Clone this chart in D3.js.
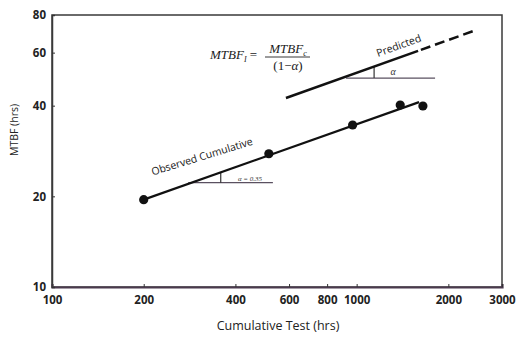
<!DOCTYPE html>
<html>
<head>
<meta charset="utf-8">
<script src="https://cdn.jsdelivr.net/npm/d3@7"></script>
<style>
  body { margin: 0; background: #fff; }
  svg { display: block; }
</style>
</head>
<body>
<svg id="chart" width="518" height="337"></svg>
<script>
// observed data points (cumulative test hours vs cumulative MTBF)
const obs_hours = [200, 515, 970, 1390, 1650];
const obs_mtbf = [19.5, 27.7, 34.5, 40.2, 39.9];

// fitted observed line, predicted (instantaneous) line
const observed_fit_hours = [200, 1603];
const observed_fit_mtbf = [19.5, 41.1];
const predicted_hours = [586, 1591];
const predicted_mtbf = [42.4, 60.8];
const predicted_ext_hours = [1625, 2466];
const predicted_ext_mtbf = [61.3, 71.3];

// alpha angle markers: [start hours, end hours, level mtbf, tick hours, tick top mtbf]
const obs_angle = [280, 531, 22.2, 358, 23.9];
const pred_angle = [923, 1809, 49.4, 1141, 53.8];

const x_ticks = [100, 200, 400, 600, 800, 1000, 2000, 3000];
const y_ticks = [10, 20, 40, 60, 80];

const svg = d3.select("#chart");
const plot_left = 52, plot_right = 502, plot_top = 15, plot_bottom = 287;

const x = d3.scaleLog().domain([100, 3000]).range([plot_left, plot_right]);
const y = d3.scaleLog().domain([10, 80]).range([plot_bottom, plot_top]);

// frame
svg.append("rect")
  .attr("x", plot_left).attr("y", plot_top)
  .attr("width", plot_right - plot_left).attr("height", plot_bottom - plot_top)
  .attr("fill", "none").attr("stroke", "#3a3a3a").attr("stroke-width", 1.5);

const font = "'Open Sans', sans-serif";

const x_axis = svg.append("g")
  .attr("transform", `translate(0,${plot_bottom})`)
  .call(d3.axisBottom(x).tickValues(x_ticks).tickFormat(d3.format("d")).tickSize(-3).tickPadding(9));
x_axis.select(".domain").attr("stroke", "#4b3a4e").attr("stroke-width", 2.2);
x_axis.selectAll(".tick line").attr("stroke", "#333");
x_axis.selectAll("text")
  .attr("font-family", font).attr("font-weight", "bold")
  .attr("font-size", 11.5).attr("fill", "#222");

const y_axis = svg.append("g")
  .attr("transform", `translate(${plot_left},0)`)
  .call(d3.axisLeft(y).tickValues(y_ticks).tickFormat(d3.format("d")).tickSize(-3).tickPadding(6));
y_axis.select(".domain").attr("stroke", "#3a3a3a").attr("stroke-width", 1.5);
y_axis.selectAll(".tick line").attr("stroke", "#333");
y_axis.selectAll("text")
  .attr("font-family", font).attr("font-weight", "bold")
  .attr("font-size", 11.5).attr("fill", "#222");

// axis titles
svg.append("text")
  .attr("x", 278).attr("y", 330)
  .attr("text-anchor", "middle")
  .attr("font-family", font).attr("font-size", 12.5).attr("fill", "#222")
  .text("Cumulative Test (hrs)");

svg.append("text")
  .attr("transform", "translate(18,130) rotate(-90)")
  .attr("text-anchor", "middle")
  .attr("font-family", font).attr("font-size", 10.5).attr("fill", "#222")
  .text("MTBF (hrs)");

const line = d3.line().x(d => x(d[0])).y(d => y(d[1]));

// angle reference lines
[obs_angle, pred_angle].forEach(a => {
  svg.append("path")
    .attr("d", line([[a[0], a[2]], [a[1], a[2]]]))
    .attr("stroke", "#5a5060").attr("stroke-width", 1.2).attr("fill", "none");
  svg.append("path")
    .attr("d", line([[a[3], a[2]], [a[3], a[4]]]))
    .attr("stroke", "#333").attr("stroke-width", 1.2).attr("fill", "none");
});

// observed fit
svg.append("path")
  .attr("d", line(d3.zip(observed_fit_hours, observed_fit_mtbf)))
  .attr("stroke", "#111").attr("stroke-width", 2.2).attr("fill", "none");

// predicted
svg.append("path")
  .attr("d", line(d3.zip(predicted_hours, predicted_mtbf)))
  .attr("stroke", "#111").attr("stroke-width", 2.5).attr("fill", "none");
svg.append("path")
  .attr("d", line(d3.zip(predicted_ext_hours, predicted_ext_mtbf)))
  .attr("stroke", "#111").attr("stroke-width", 2.5).attr("fill", "none")
  .attr("stroke-dasharray", "10,5");

// points
svg.append("g")
  .selectAll("circle")
  .data(d3.zip(obs_hours, obs_mtbf))
  .join("circle")
  .attr("cx", d => x(d[0]))
  .attr("cy", d => y(d[1]))
  .attr("r", 4.6)
  .attr("fill", "#111");

// labels along lines
svg.append("text")
  .attr("transform", "translate(203,160) rotate(-17)")
  .attr("text-anchor", "middle")
  .attr("font-family", font).attr("font-size", 10.5).attr("fill", "#1a1a1a")
  .text("Observed Cumulative");

svg.append("text")
  .attr("transform", "translate(400,49) rotate(-20)")
  .attr("text-anchor", "middle")
  .attr("font-family", font).attr("font-size", 10.5).attr("fill", "#1a1a1a")
  .text("Predicted");

const serif = "'Liberation Serif', 'Times New Roman', serif";

svg.append("text")
  .attr("x", 393).attr("y", 75)
  .attr("text-anchor", "middle")
  .attr("font-family", serif).attr("font-style", "italic")
  .attr("font-size", 10).attr("fill", "#333")
  .text("α");

svg.append("text")
  .attr("x", 250).attr("y", 181)
  .attr("text-anchor", "middle")
  .attr("font-family", serif).attr("font-style", "italic")
  .attr("font-size", 7).attr("fill", "#333")
  .text("α = 0.35");

// formula MTBF_I = MTBF_c / (1 - α)
const f = svg.append("g")
  .attr("font-family", serif).attr("font-size", 13).attr("fill", "#1a1a1a");

const lhs = f.append("text").attr("x", 210).attr("y", 59);
lhs.append("tspan").attr("font-style", "italic").text("MTBF");
lhs.append("tspan").attr("font-style", "italic").attr("font-size", 8).attr("dy", 3).text("I");
lhs.append("tspan").attr("dy", -3).attr("dx", 3).text("=");

const num = f.append("text").attr("x", 288).attr("y", 53).attr("text-anchor", "middle");
num.append("tspan").attr("font-style", "italic").text("MTBF");
num.append("tspan").attr("font-style", "italic").attr("font-size", 8).attr("dy", 3).text("c");

f.append("line")
  .attr("x1", 265).attr("x2", 310).attr("y1", 57).attr("y2", 57)
  .attr("stroke", "#222").attr("stroke-width", 0.9);

const den = f.append("text").attr("x", 288).attr("y", 70).attr("text-anchor", "middle");
den.append("tspan").text("(1−");
den.append("tspan").attr("font-style", "italic").text("α");
den.append("tspan").text(")");
</script>
</body>
</html>
